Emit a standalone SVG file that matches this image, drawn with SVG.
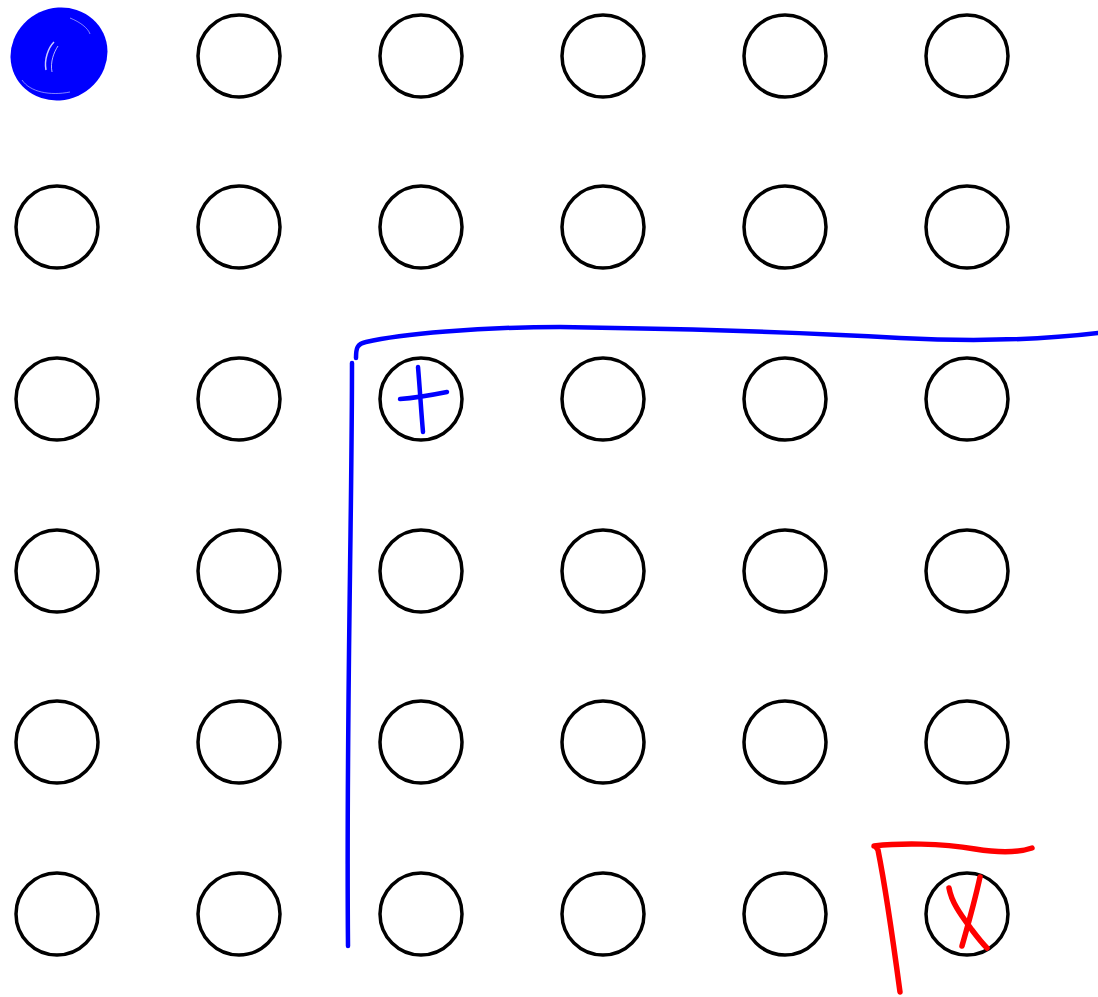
<svg xmlns="http://www.w3.org/2000/svg" width="1098" height="997" viewBox="0 0 1098 997">
<style>
.c{fill:none;stroke:#000;stroke-width:3.5}
.b{fill:none;stroke:#0000ff;stroke-width:4.5;stroke-linecap:round}
.r{fill:none;stroke:#ff0000;stroke-width:5.5;stroke-linecap:round;stroke-linejoin:round}
</style>
<rect width="1098" height="997" fill="#fff"/>
<g id="grid">
<g id="r1"><circle class="c" cx="57" cy="56" r="41"/><circle class="c" cx="239" cy="56" r="41"/><circle class="c" cx="421" cy="56" r="41"/><circle class="c" cx="603" cy="56" r="41"/><circle class="c" cx="785" cy="56" r="41"/><circle class="c" cx="967" cy="56" r="41"/></g>
<g id="r2"><circle class="c" cx="57" cy="227" r="41"/><circle class="c" cx="239" cy="227" r="41"/><circle class="c" cx="421" cy="227" r="41"/><circle class="c" cx="603" cy="227" r="41"/><circle class="c" cx="785" cy="227" r="41"/><circle class="c" cx="967" cy="227" r="41"/></g>
<g id="r3"><circle class="c" cx="57" cy="399" r="41"/><circle class="c" cx="239" cy="399" r="41"/><circle class="c" cx="421" cy="399" r="41"/><circle class="c" cx="603" cy="399" r="41"/><circle class="c" cx="785" cy="399" r="41"/><circle class="c" cx="967" cy="399" r="41"/></g>
<g id="r4"><circle class="c" cx="57" cy="571" r="41"/><circle class="c" cx="239" cy="571" r="41"/><circle class="c" cx="421" cy="571" r="41"/><circle class="c" cx="603" cy="571" r="41"/><circle class="c" cx="785" cy="571" r="41"/><circle class="c" cx="967" cy="571" r="41"/></g>
<g id="r5"><circle class="c" cx="57" cy="742" r="41"/><circle class="c" cx="239" cy="742" r="41"/><circle class="c" cx="421" cy="742" r="41"/><circle class="c" cx="603" cy="742" r="41"/><circle class="c" cx="785" cy="742" r="41"/><circle class="c" cx="967" cy="742" r="41"/></g>
<g id="r6"><circle class="c" cx="57" cy="914" r="41"/><circle class="c" cx="239" cy="914" r="41"/><circle class="c" cx="421" cy="914" r="41"/><circle class="c" cx="603" cy="914" r="41"/><circle class="c" cx="785" cy="914" r="41"/><circle class="c" cx="967" cy="914" r="41"/></g>
</g>
<g id="scribble">
<ellipse cx="59" cy="54" rx="49" ry="46" transform="rotate(-25 59 54)" fill="#0000ff"/>
<path d="M46,70 C44,60 48,48 54,42" fill="none" stroke="#fff" stroke-width="1.5" opacity="0.8"/>
<path d="M52,72 C50,62 54,52 58,46" fill="none" stroke="#fff" stroke-width="1" opacity="0.7"/>
<path d="M22,80 C30,92 50,96 70,92" fill="none" stroke="#fff" stroke-width="1" opacity="0.5"/>
<path d="M70,18 C80,22 88,28 90,34" fill="none" stroke="#fff" stroke-width="1" opacity="0.5"/>
</g>
<g id="connectors">
<path class="b" d="M356,358 C356,348 357,344 366,342 C400,334 480,327 560,327 C700,329 800,332 900,338 C980,342 1040,340 1098,333"/>
<path class="b" d="M352,363 C352,520 346,720 348,946"/>
<path class="b" d="M418,367 C420,390 421,410 423,432"/>
<path class="b" d="M400,399 C415,398 432,395 447,392"/>
<path class="r" d="M900,992 C893,940 886,890 878,850 C876,846 874,846 874,846 C900,843 940,843 975,849 C1000,853 1020,852 1032,848"/>
<path class="r" d="M949,888 C952,905 965,920 972,930 C978,938 983,944 987,948"/>
<path class="r" d="M980,877 C975,900 968,925 962,946"/>
</g>
</svg>
